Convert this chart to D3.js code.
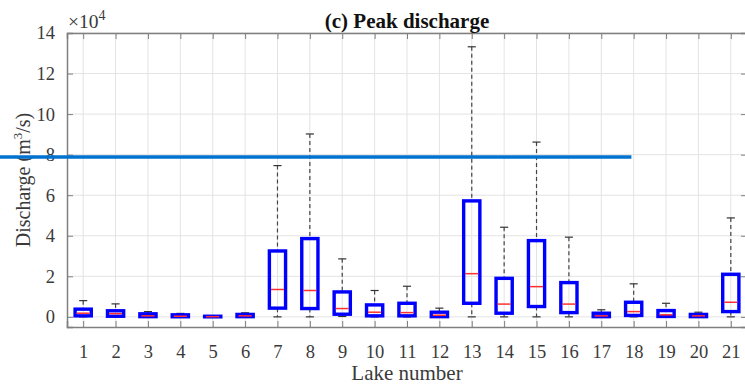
<!DOCTYPE html>
<html>
<head>
<meta charset="utf-8">
<script src="https://cdn.jsdelivr.net/npm/d3@7"></script>
<style>
  html, body { margin: 0; padding: 0; background: #fff; }
  svg { display: block; }
</style>
</head>
<body>
<svg id="chart" width="745" height="387"></svg>
<script>
// Peak discharge statistics per lake (units of 10^4 m^3/s)
const lakes    = [1,2,3,4,5,6,7,8,9,10,11,12,13,14,15,16,17,18,19,20,21];
const whiskLo  = [0,0,0,0,0,0,0,0,0.02,0,0,0,0,0,0,0,0,0,0,0,0];
const q1       = [0.05,0.03,0.01,0.005,0.002,0.01,0.43,0.41,0.13,0.05,0.05,0.01,0.67,0.18,0.51,0.21,0.01,0.07,0.02,0.01,0.26];
const medians  = [0.18,0.16,0.05,0.03,0.01,0.05,1.35,1.30,0.41,0.23,0.21,0.08,2.13,0.63,1.49,0.63,0.05,0.26,0.10,0.05,0.72];
const q3       = [0.38,0.30,0.15,0.10,0.03,0.12,3.25,3.86,1.23,0.59,0.67,0.23,5.72,1.90,3.76,1.69,0.18,0.72,0.31,0.12,2.10];
const whiskHi  = [0.80,0.64,0.26,0.17,0.05,0.20,7.46,9.02,2.86,1.30,1.51,0.43,13.32,4.42,8.62,3.93,0.35,1.63,0.67,0.23,4.88];
const yTicks   = [0,2,4,6,8,10,12,14];
const scale    = 1e4;
// Horizontal reference level drawn across the plot (value in m^3/s, span in lake-number units)
const refLevel = { value: 78800, from: -1.65, to: 17.93 };

const SERIF = '"Liberation Serif", "DejaVu Serif", serif';

const svg = d3.select("#chart");
const m = { left: 67, top: 33, right: 747, bottom: 327 };

const x = d3.scaleLinear().domain([0.5, 21.5]).range([m.left, m.right]);
const y = d3.scaleLinear().domain([-0.5, 14]).range([m.bottom, m.top]);

const axisGray = "#7f7f7f";
const textGray = "#3a3a3a";

// grid
const grid = svg.append("g");
grid.selectAll("line.gx").data(lakes).join("line")
  .attr("x1", d => x(d)).attr("x2", d => x(d))
  .attr("y1", m.top).attr("y2", m.bottom)
  .attr("stroke", "#e3e3e3").attr("stroke-width", 1);
grid.selectAll("line.gy").data(yTicks).join("line")
  .attr("x1", m.left).attr("x2", m.right)
  .attr("y1", d => y(d)).attr("y2", d => y(d))
  .attr("stroke", "#e3e3e3").attr("stroke-width", 1);

// axes via d3 axis generators
const tickLen = 6;
const gLeft = svg.append("g").attr("transform", `translate(${m.left},0)`)
  .call(d3.axisLeft(y).tickValues(yTicks).tickSize(-tickLen).tickPadding(tickLen + 6).tickFormat(d3.format("d")));
const gBottom = svg.append("g").attr("transform", `translate(0,${m.bottom})`)
  .call(d3.axisBottom(x).tickValues(lakes).tickSize(-tickLen).tickPadding(tickLen + 12).tickFormat(d3.format("d")));
const gTop = svg.append("g").attr("transform", `translate(0,${m.top})`)
  .call(d3.axisTop(x).tickValues(lakes).tickSize(-tickLen).tickFormat(""));
const gRight = svg.append("g").attr("transform", `translate(${m.right},0)`)
  .call(d3.axisRight(y).tickValues(yTicks).tickSize(-tickLen).tickFormat(""));

[gLeft, gBottom, gTop, gRight].forEach(g => {
  g.attr("font-family", SERIF);
  g.select(".domain").attr("stroke", axisGray).attr("stroke-width", 1.5);
  g.selectAll(".tick line").attr("stroke", axisGray).attr("stroke-width", 1);
  g.selectAll(".tick text").attr("fill", textGray)
    .style("font-family", SERIF).style("font-size", "18.5px");
});
gBottom.selectAll(".tick text").attr("dy", "0.71em");

// exponent label
const ex = svg.append("text").attr("x", m.left + 1).attr("y", 28)
  .attr("fill", textGray).style("font-family", SERIF).style("font-size", "19.5px");
ex.append("tspan").text("×10");
ex.append("tspan").attr("dy", -8).style("font-size", "14px").text("4");

// boxes
const bw = 0.5, capW = 0.25;
const boxes = svg.append("g");
lakes.forEach((l, i) => {
  const g = boxes.append("g");
  // whiskers
  g.append("line").attr("x1", x(l)).attr("x2", x(l))
    .attr("y1", y(whiskHi[i])).attr("y2", y(q3[i]))
    .attr("stroke", "#444").attr("stroke-width", 1.2).attr("stroke-dasharray", "4,3");
  g.append("line").attr("x1", x(l)).attr("x2", x(l))
    .attr("y1", y(q1[i])).attr("y2", y(whiskLo[i]))
    .attr("stroke", "#444").attr("stroke-width", 1.2).attr("stroke-dasharray", "4,3");
  // caps
  [whiskHi[i], whiskLo[i]].forEach(v => {
    g.append("line").attr("x1", x(l - capW / 2)).attr("x2", x(l + capW / 2))
      .attr("y1", y(v)).attr("y2", y(v))
      .attr("stroke", "#333").attr("stroke-width", 1.2);
  });
  // box
  g.append("rect").attr("x", x(l - bw / 2)).attr("width", x(l + bw / 2) - x(l - bw / 2))
    .attr("y", y(q3[i])).attr("height", Math.max(0, y(q1[i]) - y(q3[i])))
    .attr("fill", "none").attr("stroke", "#0000ff").attr("stroke-width", 3.4);
  // median
  g.append("line").attr("x1", x(l - bw / 2) + 1.5).attr("x2", x(l + bw / 2) - 1.5)
    .attr("y1", y(medians[i])).attr("y2", y(medians[i]))
    .attr("stroke", "#ff3030").attr("stroke-width", 1.5);
});

// axis labels and title
svg.append("text").attr("x", x(11)).attr("y", 380)
  .attr("text-anchor", "middle").attr("fill", textGray)
  .style("font-family", SERIF).style("font-size", "21px")
  .text("Lake number");

const yl = svg.append("text")
  .attr("transform", `translate(30,${(m.top + m.bottom) / 2}) rotate(-90)`)
  .attr("text-anchor", "middle").attr("fill", textGray)
  .style("font-family", SERIF).style("font-size", "20px");
yl.append("tspan").text("Discharge (m");
yl.append("tspan").attr("dy", -8).style("font-size", "13px").text("3");
yl.append("tspan").attr("dy", 8).text("/s)");

svg.append("text").attr("x", (m.left + m.right) / 2).attr("y", 28)
  .attr("text-anchor", "middle").attr("fill", "#111")
  .style("font-family", SERIF).style("font-size", "21px").style("font-weight", "bold")
  .text("(c) Peak discharge");

// reference level line
svg.append("line")
  .attr("x1", x(refLevel.from)).attr("x2", x(refLevel.to))
  .attr("y1", y(refLevel.value / scale)).attr("y2", y(refLevel.value / scale))
  .attr("stroke", "#0072d0").attr("stroke-width", 3.5);
</script>
</body>
</html>
